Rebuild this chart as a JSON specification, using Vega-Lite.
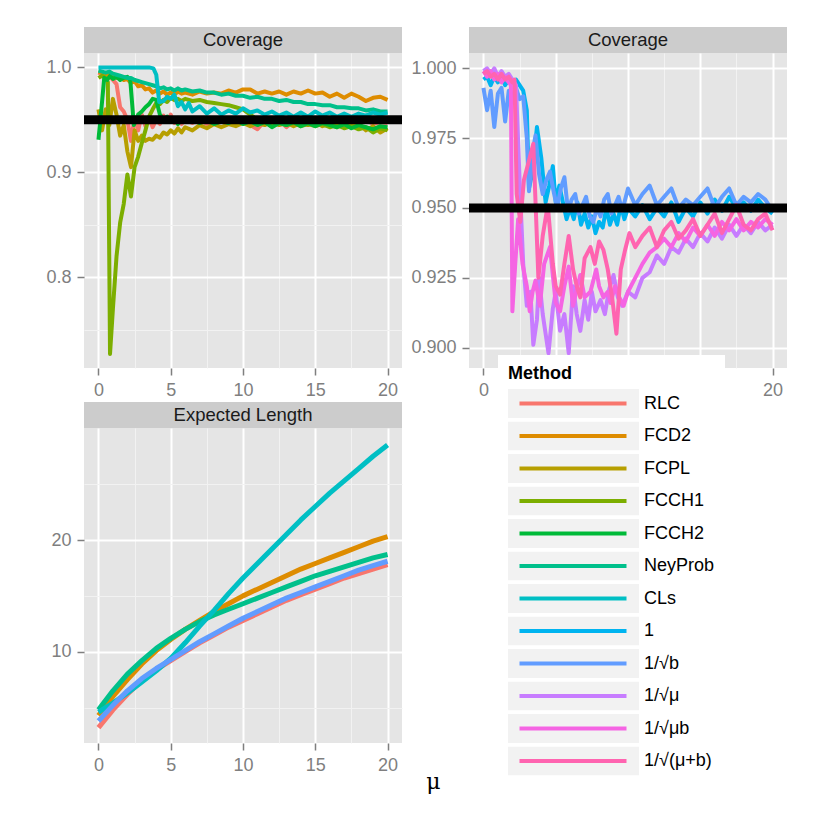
{
  "$schema": "https://vega.github.io/schema/vega-lite/v6.json",
  "autosize": {"type": "pad"},
  "padding": {"left": 45, "top": 27, "right": 5, "bottom": 5},
  "background": "white",
  "datasets": {
    "ref": [{"y": 0.95}],
    "tl": [
      {"m":"RLC","x":0,"y":0.995},{"m":"RLC","x":0.25,"y":0.993},{"m":"RLC","x":0.5,"y":0.99},{"m":"RLC","x":0.75,"y":0.992},{"m":"RLC","x":1,"y":0.988},{"m":"RLC","x":1.25,"y":0.984},{"m":"RLC","x":1.5,"y":0.962},{"m":"RLC","x":1.75,"y":0.958},{"m":"RLC","x":2,"y":0.95},{"m":"RLC","x":2.25,"y":0.93},{"m":"RLC","x":2.5,"y":0.952},{"m":"RLC","x":2.75,"y":0.94},{"m":"RLC","x":3,"y":0.955},{"m":"RLC","x":3.25,"y":0.944},{"m":"RLC","x":3.5,"y":0.952},{"m":"RLC","x":3.75,"y":0.943},{"m":"RLC","x":4,"y":0.95},{"m":"RLC","x":4.25,"y":0.946},{"m":"RLC","x":4.5,"y":0.954},{"m":"RLC","x":4.75,"y":0.948},{"m":"RLC","x":5,"y":0.955},{"m":"RLC","x":5.25,"y":0.947},{"m":"RLC","x":5.5,"y":0.952},{"m":"RLC","x":5.75,"y":0.946},{"m":"RLC","x":6,"y":0.95},{"m":"RLC","x":6.5,"y":0.947},{"m":"RLC","x":7,"y":0.951},{"m":"RLC","x":7.5,"y":0.946},{"m":"RLC","x":8,"y":0.95},{"m":"RLC","x":8.5,"y":0.948},{"m":"RLC","x":9,"y":0.951},{"m":"RLC","x":9.5,"y":0.947},{"m":"RLC","x":10,"y":0.949},{"m":"RLC","x":10.5,"y":0.945},{"m":"RLC","x":11,"y":0.941},{"m":"RLC","x":11.5,"y":0.949},{"m":"RLC","x":12,"y":0.947},{"m":"RLC","x":12.5,"y":0.95},{"m":"RLC","x":13,"y":0.943},{"m":"RLC","x":13.5,"y":0.949},{"m":"RLC","x":14,"y":0.946},{"m":"RLC","x":14.5,"y":0.95},{"m":"RLC","x":15,"y":0.947},{"m":"RLC","x":15.5,"y":0.949},{"m":"RLC","x":16,"y":0.945},{"m":"RLC","x":16.5,"y":0.95},{"m":"RLC","x":17,"y":0.947},{"m":"RLC","x":17.5,"y":0.949},{"m":"RLC","x":18,"y":0.946},{"m":"RLC","x":18.5,"y":0.95},{"m":"RLC","x":19,"y":0.946},{"m":"RLC","x":19.5,"y":0.948},{"m":"RLC","x":20,"y":0.947},
      {"m":"FCD2","x":0,"y":0.996},{"m":"FCD2","x":0.25,"y":0.995},{"m":"FCD2","x":0.5,"y":0.993},{"m":"FCD2","x":0.75,"y":0.994},{"m":"FCD2","x":1,"y":0.992},{"m":"FCD2","x":1.25,"y":0.99},{"m":"FCD2","x":1.5,"y":0.991},{"m":"FCD2","x":1.75,"y":0.988},{"m":"FCD2","x":2,"y":0.989},{"m":"FCD2","x":2.25,"y":0.985},{"m":"FCD2","x":2.5,"y":0.987},{"m":"FCD2","x":2.75,"y":0.982},{"m":"FCD2","x":3,"y":0.983},{"m":"FCD2","x":3.25,"y":0.979},{"m":"FCD2","x":3.5,"y":0.98},{"m":"FCD2","x":3.75,"y":0.976},{"m":"FCD2","x":4,"y":0.978},{"m":"FCD2","x":4.25,"y":0.975},{"m":"FCD2","x":4.5,"y":0.977},{"m":"FCD2","x":4.75,"y":0.974},{"m":"FCD2","x":5,"y":0.976},{"m":"FCD2","x":5.25,"y":0.974},{"m":"FCD2","x":5.5,"y":0.977},{"m":"FCD2","x":5.75,"y":0.975},{"m":"FCD2","x":6,"y":0.976},{"m":"FCD2","x":6.5,"y":0.974},{"m":"FCD2","x":7,"y":0.977},{"m":"FCD2","x":7.5,"y":0.975},{"m":"FCD2","x":8,"y":0.976},{"m":"FCD2","x":8.5,"y":0.975},{"m":"FCD2","x":9,"y":0.978},{"m":"FCD2","x":9.5,"y":0.976},{"m":"FCD2","x":10,"y":0.979},{"m":"FCD2","x":10.5,"y":0.979},{"m":"FCD2","x":11,"y":0.975},{"m":"FCD2","x":11.5,"y":0.977},{"m":"FCD2","x":12,"y":0.975},{"m":"FCD2","x":12.5,"y":0.977},{"m":"FCD2","x":13,"y":0.974},{"m":"FCD2","x":13.5,"y":0.977},{"m":"FCD2","x":14,"y":0.975},{"m":"FCD2","x":14.5,"y":0.978},{"m":"FCD2","x":15,"y":0.975},{"m":"FCD2","x":15.5,"y":0.976},{"m":"FCD2","x":16,"y":0.972},{"m":"FCD2","x":16.5,"y":0.975},{"m":"FCD2","x":17,"y":0.971},{"m":"FCD2","x":17.5,"y":0.975},{"m":"FCD2","x":18,"y":0.972},{"m":"FCD2","x":18.5,"y":0.968},{"m":"FCD2","x":19,"y":0.971},{"m":"FCD2","x":19.5,"y":0.972},{"m":"FCD2","x":20,"y":0.969},
      {"m":"FCPL","x":0,"y":0.96},{"m":"FCPL","x":0.25,"y":0.94},{"m":"FCPL","x":0.5,"y":0.96},{"m":"FCPL","x":0.75,"y":0.945},{"m":"FCPL","x":1,"y":0.97},{"m":"FCPL","x":1.25,"y":0.955},{"m":"FCPL","x":1.5,"y":0.935},{"m":"FCPL","x":1.75,"y":0.945},{"m":"FCPL","x":2,"y":0.92},{"m":"FCPL","x":2.25,"y":0.905},{"m":"FCPL","x":2.5,"y":0.94},{"m":"FCPL","x":2.75,"y":0.93},{"m":"FCPL","x":3,"y":0.935},{"m":"FCPL","x":3.25,"y":0.93},{"m":"FCPL","x":3.5,"y":0.932},{"m":"FCPL","x":3.75,"y":0.931},{"m":"FCPL","x":4,"y":0.935},{"m":"FCPL","x":4.25,"y":0.933},{"m":"FCPL","x":4.5,"y":0.938},{"m":"FCPL","x":4.75,"y":0.936},{"m":"FCPL","x":5,"y":0.94},{"m":"FCPL","x":5.25,"y":0.937},{"m":"FCPL","x":5.5,"y":0.942},{"m":"FCPL","x":5.75,"y":0.938},{"m":"FCPL","x":6,"y":0.943},{"m":"FCPL","x":6.5,"y":0.94},{"m":"FCPL","x":7,"y":0.945},{"m":"FCPL","x":7.5,"y":0.942},{"m":"FCPL","x":8,"y":0.946},{"m":"FCPL","x":8.5,"y":0.943},{"m":"FCPL","x":9,"y":0.946},{"m":"FCPL","x":9.5,"y":0.944},{"m":"FCPL","x":10,"y":0.947},{"m":"FCPL","x":10.5,"y":0.944},{"m":"FCPL","x":11,"y":0.947},{"m":"FCPL","x":11.5,"y":0.945},{"m":"FCPL","x":12,"y":0.948},{"m":"FCPL","x":12.5,"y":0.945},{"m":"FCPL","x":13,"y":0.947},{"m":"FCPL","x":13.5,"y":0.944},{"m":"FCPL","x":14,"y":0.947},{"m":"FCPL","x":14.5,"y":0.945},{"m":"FCPL","x":15,"y":0.948},{"m":"FCPL","x":15.5,"y":0.944},{"m":"FCPL","x":16,"y":0.946},{"m":"FCPL","x":16.5,"y":0.943},{"m":"FCPL","x":17,"y":0.947},{"m":"FCPL","x":17.5,"y":0.944},{"m":"FCPL","x":18,"y":0.946},{"m":"FCPL","x":18.5,"y":0.94},{"m":"FCPL","x":19,"y":0.944},{"m":"FCPL","x":19.5,"y":0.938},{"m":"FCPL","x":20,"y":0.942},
      {"m":"FCCH1","x":0,"y":0.99},{"m":"FCCH1","x":0.25,"y":0.992},{"m":"FCCH1","x":0.5,"y":0.99},{"m":"FCCH1","x":0.65,"y":0.986},{"m":"FCCH1","x":0.8,"y":0.727},{"m":"FCCH1","x":1,"y":0.77},{"m":"FCCH1","x":1.25,"y":0.82},{"m":"FCCH1","x":1.5,"y":0.852},{"m":"FCCH1","x":1.75,"y":0.87},{"m":"FCCH1","x":2,"y":0.898},{"m":"FCCH1","x":2.25,"y":0.877},{"m":"FCCH1","x":2.5,"y":0.905},{"m":"FCCH1","x":2.75,"y":0.915},{"m":"FCCH1","x":3,"y":0.928},{"m":"FCCH1","x":3.25,"y":0.94},{"m":"FCCH1","x":3.5,"y":0.953},{"m":"FCCH1","x":3.75,"y":0.96},{"m":"FCCH1","x":4,"y":0.966},{"m":"FCCH1","x":4.25,"y":0.965},{"m":"FCCH1","x":4.5,"y":0.969},{"m":"FCCH1","x":4.75,"y":0.967},{"m":"FCCH1","x":5,"y":0.971},{"m":"FCCH1","x":5.25,"y":0.969},{"m":"FCCH1","x":5.5,"y":0.97},{"m":"FCCH1","x":5.75,"y":0.968},{"m":"FCCH1","x":6,"y":0.97},{"m":"FCCH1","x":6.5,"y":0.968},{"m":"FCCH1","x":7,"y":0.969},{"m":"FCCH1","x":7.5,"y":0.967},{"m":"FCCH1","x":8,"y":0.966},{"m":"FCCH1","x":8.5,"y":0.965},{"m":"FCCH1","x":9,"y":0.964},{"m":"FCCH1","x":9.5,"y":0.962},{"m":"FCCH1","x":10,"y":0.96},{"m":"FCCH1","x":10.5,"y":0.955},{"m":"FCCH1","x":11,"y":0.95},{"m":"FCCH1","x":11.5,"y":0.948},{"m":"FCCH1","x":12,"y":0.946},{"m":"FCCH1","x":12.5,"y":0.948},{"m":"FCCH1","x":13,"y":0.945},{"m":"FCCH1","x":13.5,"y":0.947},{"m":"FCCH1","x":14,"y":0.944},{"m":"FCCH1","x":14.5,"y":0.946},{"m":"FCCH1","x":15,"y":0.944},{"m":"FCCH1","x":15.5,"y":0.946},{"m":"FCCH1","x":16,"y":0.943},{"m":"FCCH1","x":16.5,"y":0.945},{"m":"FCCH1","x":17,"y":0.942},{"m":"FCCH1","x":17.5,"y":0.944},{"m":"FCCH1","x":18,"y":0.941},{"m":"FCCH1","x":18.5,"y":0.943},{"m":"FCCH1","x":19,"y":0.938},{"m":"FCCH1","x":19.5,"y":0.942},{"m":"FCCH1","x":20,"y":0.94},
      {"m":"FCCH2","x":0,"y":0.931},{"m":"FCCH2","x":0.2,"y":0.96},{"m":"FCCH2","x":0.4,"y":0.99},{"m":"FCCH2","x":0.6,"y":0.988},{"m":"FCCH2","x":0.8,"y":0.992},{"m":"FCCH2","x":1,"y":0.989},{"m":"FCCH2","x":1.25,"y":0.991},{"m":"FCCH2","x":1.5,"y":0.988},{"m":"FCCH2","x":1.75,"y":0.99},{"m":"FCCH2","x":2,"y":0.991},{"m":"FCCH2","x":2.2,"y":0.988},{"m":"FCCH2","x":2.45,"y":0.945},{"m":"FCCH2","x":2.75,"y":0.955},{"m":"FCCH2","x":3,"y":0.958},{"m":"FCCH2","x":3.25,"y":0.962},{"m":"FCCH2","x":3.5,"y":0.965},{"m":"FCCH2","x":3.75,"y":0.97},{"m":"FCCH2","x":4,"y":0.969},{"m":"FCCH2","x":4.25,"y":0.955},{"m":"FCCH2","x":4.5,"y":0.95},{"m":"FCCH2","x":4.75,"y":0.953},{"m":"FCCH2","x":5,"y":0.948},{"m":"FCCH2","x":5.25,"y":0.951},{"m":"FCCH2","x":5.5,"y":0.946},{"m":"FCCH2","x":5.75,"y":0.95},{"m":"FCCH2","x":6,"y":0.948},{"m":"FCCH2","x":6.5,"y":0.951},{"m":"FCCH2","x":7,"y":0.947},{"m":"FCCH2","x":7.5,"y":0.95},{"m":"FCCH2","x":8,"y":0.946},{"m":"FCCH2","x":8.5,"y":0.949},{"m":"FCCH2","x":9,"y":0.947},{"m":"FCCH2","x":9.5,"y":0.95},{"m":"FCCH2","x":10,"y":0.946},{"m":"FCCH2","x":10.5,"y":0.949},{"m":"FCCH2","x":11,"y":0.945},{"m":"FCCH2","x":11.5,"y":0.948},{"m":"FCCH2","x":12,"y":0.943},{"m":"FCCH2","x":12.5,"y":0.947},{"m":"FCCH2","x":13,"y":0.945},{"m":"FCCH2","x":13.5,"y":0.948},{"m":"FCCH2","x":14,"y":0.944},{"m":"FCCH2","x":14.5,"y":0.947},{"m":"FCCH2","x":15,"y":0.944},{"m":"FCCH2","x":15.5,"y":0.947},{"m":"FCCH2","x":16,"y":0.945},{"m":"FCCH2","x":16.5,"y":0.943},{"m":"FCCH2","x":17,"y":0.946},{"m":"FCCH2","x":17.5,"y":0.942},{"m":"FCCH2","x":18,"y":0.945},{"m":"FCCH2","x":18.5,"y":0.943},{"m":"FCCH2","x":19,"y":0.941},{"m":"FCCH2","x":19.5,"y":0.944},{"m":"FCCH2","x":20,"y":0.943},
      {"m":"NeyProb","x":0,"y":0.997},{"m":"NeyProb","x":0.25,"y":0.996},{"m":"NeyProb","x":0.5,"y":0.995},{"m":"NeyProb","x":0.75,"y":0.996},{"m":"NeyProb","x":1,"y":0.994},{"m":"NeyProb","x":1.25,"y":0.993},{"m":"NeyProb","x":1.5,"y":0.992},{"m":"NeyProb","x":1.75,"y":0.991},{"m":"NeyProb","x":2,"y":0.99},{"m":"NeyProb","x":2.25,"y":0.99},{"m":"NeyProb","x":2.5,"y":0.988},{"m":"NeyProb","x":2.75,"y":0.987},{"m":"NeyProb","x":3,"y":0.986},{"m":"NeyProb","x":3.25,"y":0.985},{"m":"NeyProb","x":3.5,"y":0.984},{"m":"NeyProb","x":3.75,"y":0.983},{"m":"NeyProb","x":4,"y":0.982},{"m":"NeyProb","x":4.25,"y":0.98},{"m":"NeyProb","x":4.5,"y":0.981},{"m":"NeyProb","x":4.75,"y":0.979},{"m":"NeyProb","x":5,"y":0.98},{"m":"NeyProb","x":5.25,"y":0.978},{"m":"NeyProb","x":5.5,"y":0.98},{"m":"NeyProb","x":5.75,"y":0.978},{"m":"NeyProb","x":6,"y":0.979},{"m":"NeyProb","x":6.5,"y":0.977},{"m":"NeyProb","x":7,"y":0.978},{"m":"NeyProb","x":7.5,"y":0.976},{"m":"NeyProb","x":8,"y":0.976},{"m":"NeyProb","x":8.5,"y":0.974},{"m":"NeyProb","x":9,"y":0.975},{"m":"NeyProb","x":9.5,"y":0.973},{"m":"NeyProb","x":10,"y":0.973},{"m":"NeyProb","x":10.5,"y":0.971},{"m":"NeyProb","x":11,"y":0.972},{"m":"NeyProb","x":11.5,"y":0.97},{"m":"NeyProb","x":12,"y":0.97},{"m":"NeyProb","x":12.5,"y":0.968},{"m":"NeyProb","x":13,"y":0.969},{"m":"NeyProb","x":13.5,"y":0.967},{"m":"NeyProb","x":14,"y":0.967},{"m":"NeyProb","x":14.5,"y":0.965},{"m":"NeyProb","x":15,"y":0.965},{"m":"NeyProb","x":15.5,"y":0.964},{"m":"NeyProb","x":16,"y":0.964},{"m":"NeyProb","x":16.5,"y":0.962},{"m":"NeyProb","x":17,"y":0.962},{"m":"NeyProb","x":17.5,"y":0.961},{"m":"NeyProb","x":18,"y":0.961},{"m":"NeyProb","x":18.5,"y":0.959},{"m":"NeyProb","x":19,"y":0.96},{"m":"NeyProb","x":19.5,"y":0.958},{"m":"NeyProb","x":20,"y":0.958},
      {"m":"CLs","x":0,"y":1},{"m":"CLs","x":0.5,"y":1},{"m":"CLs","x":1,"y":1},{"m":"CLs","x":1.5,"y":1},{"m":"CLs","x":2,"y":1},{"m":"CLs","x":2.5,"y":1},{"m":"CLs","x":3,"y":1},{"m":"CLs","x":3.5,"y":1},{"m":"CLs","x":3.8,"y":0.999},{"m":"CLs","x":4,"y":0.993},{"m":"CLs","x":4.2,"y":0.967},{"m":"CLs","x":4.5,"y":0.968},{"m":"CLs","x":4.75,"y":0.972},{"m":"CLs","x":5,"y":0.97},{"m":"CLs","x":5.25,"y":0.974},{"m":"CLs","x":5.5,"y":0.963},{"m":"CLs","x":5.75,"y":0.967},{"m":"CLs","x":6,"y":0.96},{"m":"CLs","x":6.25,"y":0.966},{"m":"CLs","x":6.5,"y":0.958},{"m":"CLs","x":7,"y":0.963},{"m":"CLs","x":7.5,"y":0.956},{"m":"CLs","x":8,"y":0.961},{"m":"CLs","x":8.5,"y":0.955},{"m":"CLs","x":9,"y":0.959},{"m":"CLs","x":9.5,"y":0.956},{"m":"CLs","x":10,"y":0.961},{"m":"CLs","x":10.5,"y":0.957},{"m":"CLs","x":11,"y":0.959},{"m":"CLs","x":11.5,"y":0.955},{"m":"CLs","x":12,"y":0.958},{"m":"CLs","x":12.5,"y":0.954},{"m":"CLs","x":13,"y":0.957},{"m":"CLs","x":13.5,"y":0.953},{"m":"CLs","x":14,"y":0.957},{"m":"CLs","x":14.5,"y":0.953},{"m":"CLs","x":15,"y":0.958},{"m":"CLs","x":15.5,"y":0.954},{"m":"CLs","x":16,"y":0.957},{"m":"CLs","x":16.5,"y":0.953},{"m":"CLs","x":17,"y":0.956},{"m":"CLs","x":17.5,"y":0.953},{"m":"CLs","x":18,"y":0.956},{"m":"CLs","x":18.5,"y":0.954},{"m":"CLs","x":19,"y":0.957},{"m":"CLs","x":19.5,"y":0.955},{"m":"CLs","x":20,"y":0.957}
    ],
    "tr": [
      {"m":"1","x":0,"y":0.996},{"m":"1","x":0.25,"y":0.997},{"m":"1","x":0.5,"y":0.994},{"m":"1","x":0.75,"y":0.997},{"m":"1","x":1,"y":0.995},{"m":"1","x":1.25,"y":0.997},{"m":"1","x":1.5,"y":0.994},{"m":"1","x":1.75,"y":0.996},{"m":"1","x":2,"y":0.995},{"m":"1","x":2.25,"y":0.996},{"m":"1","x":2.5,"y":0.994},{"m":"1","x":2.75,"y":0.992},{"m":"1","x":3,"y":0.985},{"m":"1","x":3.15,"y":0.957},{"m":"1","x":3.4,"y":0.963},{"m":"1","x":3.7,"y":0.979},{"m":"1","x":4,"y":0.968},{"m":"1","x":4.3,"y":0.952},{"m":"1","x":4.55,"y":0.958},{"m":"1","x":4.8,"y":0.965},{"m":"1","x":5,"y":0.952},{"m":"1","x":5.25,"y":0.958},{"m":"1","x":5.5,"y":0.952},{"m":"1","x":5.75,"y":0.946},{"m":"1","x":6,"y":0.95},{"m":"1","x":6.25,"y":0.946},{"m":"1","x":6.5,"y":0.952},{"m":"1","x":6.75,"y":0.944},{"m":"1","x":7,"y":0.948},{"m":"1","x":7.25,"y":0.943},{"m":"1","x":7.5,"y":0.947},{"m":"1","x":7.75,"y":0.941},{"m":"1","x":8,"y":0.945},{"m":"1","x":8.25,"y":0.943},{"m":"1","x":8.5,"y":0.95},{"m":"1","x":8.75,"y":0.944},{"m":"1","x":9,"y":0.948},{"m":"1","x":9.25,"y":0.944},{"m":"1","x":9.5,"y":0.951},{"m":"1","x":9.75,"y":0.946},{"m":"1","x":10,"y":0.95},{"m":"1","x":10.5,"y":0.947},{"m":"1","x":11,"y":0.951},{"m":"1","x":11.5,"y":0.946},{"m":"1","x":12,"y":0.95},{"m":"1","x":12.5,"y":0.947},{"m":"1","x":13,"y":0.952},{"m":"1","x":13.5,"y":0.945},{"m":"1","x":14,"y":0.95},{"m":"1","x":14.5,"y":0.947},{"m":"1","x":15,"y":0.952},{"m":"1","x":15.5,"y":0.948},{"m":"1","x":16,"y":0.953},{"m":"1","x":16.5,"y":0.949},{"m":"1","x":17,"y":0.954},{"m":"1","x":17.5,"y":0.95},{"m":"1","x":18,"y":0.952},{"m":"1","x":18.5,"y":0.949},{"m":"1","x":19,"y":0.953},{"m":"1","x":19.5,"y":0.95},{"m":"1","x":20,"y":0.948},
      {"m":"1/√b","x":0,"y":0.993},{"m":"1/√b","x":0.25,"y":0.985},{"m":"1/√b","x":0.5,"y":0.992},{"m":"1/√b","x":0.75,"y":0.979},{"m":"1/√b","x":1,"y":0.991},{"m":"1/√b","x":1.25,"y":0.993},{"m":"1/√b","x":1.5,"y":0.981},{"m":"1/√b","x":1.75,"y":0.992},{"m":"1/√b","x":2,"y":0.99},{"m":"1/√b","x":2.25,"y":0.993},{"m":"1/√b","x":2.5,"y":0.989},{"m":"1/√b","x":2.75,"y":0.99},{"m":"1/√b","x":3,"y":0.975},{"m":"1/√b","x":3.15,"y":0.956},{"m":"1/√b","x":3.4,"y":0.97},{"m":"1/√b","x":3.6,"y":0.976},{"m":"1/√b","x":3.85,"y":0.962},{"m":"1/√b","x":4.1,"y":0.955},{"m":"1/√b","x":4.35,"y":0.96},{"m":"1/√b","x":4.6,"y":0.963},{"m":"1/√b","x":4.85,"y":0.956},{"m":"1/√b","x":5.1,"y":0.95},{"m":"1/√b","x":5.35,"y":0.957},{"m":"1/√b","x":5.6,"y":0.961},{"m":"1/√b","x":5.85,"y":0.949},{"m":"1/√b","x":6.1,"y":0.953},{"m":"1/√b","x":6.35,"y":0.955},{"m":"1/√b","x":6.6,"y":0.948},{"m":"1/√b","x":6.85,"y":0.951},{"m":"1/√b","x":7.1,"y":0.954},{"m":"1/√b","x":7.35,"y":0.947},{"m":"1/√b","x":7.6,"y":0.945},{"m":"1/√b","x":7.85,"y":0.95},{"m":"1/√b","x":8.1,"y":0.947},{"m":"1/√b","x":8.35,"y":0.953},{"m":"1/√b","x":8.6,"y":0.955},{"m":"1/√b","x":8.85,"y":0.948},{"m":"1/√b","x":9.1,"y":0.951},{"m":"1/√b","x":9.35,"y":0.954},{"m":"1/√b","x":9.6,"y":0.949},{"m":"1/√b","x":10,"y":0.957},{"m":"1/√b","x":10.5,"y":0.951},{"m":"1/√b","x":11,"y":0.955},{"m":"1/√b","x":11.5,"y":0.958},{"m":"1/√b","x":12,"y":0.951},{"m":"1/√b","x":12.5,"y":0.954},{"m":"1/√b","x":13,"y":0.957},{"m":"1/√b","x":13.5,"y":0.95},{"m":"1/√b","x":14,"y":0.953},{"m":"1/√b","x":14.5,"y":0.951},{"m":"1/√b","x":15,"y":0.954},{"m":"1/√b","x":15.5,"y":0.957},{"m":"1/√b","x":16,"y":0.95},{"m":"1/√b","x":16.5,"y":0.954},{"m":"1/√b","x":17,"y":0.957},{"m":"1/√b","x":17.5,"y":0.951},{"m":"1/√b","x":18,"y":0.954},{"m":"1/√b","x":18.5,"y":0.952},{"m":"1/√b","x":19,"y":0.955},{"m":"1/√b","x":19.5,"y":0.953},{"m":"1/√b","x":20,"y":0.949},
      {"m":"1/√μ","x":0,"y":0.999},{"m":"1/√μ","x":0.25,"y":1},{"m":"1/√μ","x":0.5,"y":0.998},{"m":"1/√μ","x":0.75,"y":1},{"m":"1/√μ","x":1,"y":0.997},{"m":"1/√μ","x":1.25,"y":0.999},{"m":"1/√μ","x":1.5,"y":0.997},{"m":"1/√μ","x":1.75,"y":0.998},{"m":"1/√μ","x":2,"y":0.996},{"m":"1/√μ","x":2.25,"y":0.994},{"m":"1/√μ","x":2.5,"y":0.96},{"m":"1/√μ","x":2.75,"y":0.93},{"m":"1/√μ","x":3,"y":0.915},{"m":"1/√μ","x":3.25,"y":0.92},{"m":"1/√μ","x":3.45,"y":0.901},{"m":"1/√μ","x":3.7,"y":0.91},{"m":"1/√μ","x":3.85,"y":0.925},{"m":"1/√μ","x":4.1,"y":0.912},{"m":"1/√μ","x":4.5,"y":0.898},{"m":"1/√μ","x":4.8,"y":0.914},{"m":"1/√μ","x":5,"y":0.92},{"m":"1/√μ","x":5.3,"y":0.906},{"m":"1/√μ","x":5.6,"y":0.912},{"m":"1/√μ","x":5.9,"y":0.898},{"m":"1/√μ","x":6.2,"y":0.922},{"m":"1/√μ","x":6.45,"y":0.912},{"m":"1/√μ","x":6.7,"y":0.906},{"m":"1/√μ","x":7,"y":0.917},{"m":"1/√μ","x":7.25,"y":0.91},{"m":"1/√μ","x":7.5,"y":0.92},{"m":"1/√μ","x":7.75,"y":0.913},{"m":"1/√μ","x":8.1,"y":0.917},{"m":"1/√μ","x":8.4,"y":0.912},{"m":"1/√μ","x":8.7,"y":0.921},{"m":"1/√μ","x":9,"y":0.926},{"m":"1/√μ","x":9.3,"y":0.918},{"m":"1/√μ","x":9.6,"y":0.915},{"m":"1/√μ","x":10,"y":0.92},{"m":"1/√μ","x":10.5,"y":0.918},{"m":"1/√μ","x":11,"y":0.925},{"m":"1/√μ","x":11.5,"y":0.927},{"m":"1/√μ","x":12,"y":0.933},{"m":"1/√μ","x":12.5,"y":0.93},{"m":"1/√μ","x":13,"y":0.936},{"m":"1/√μ","x":13.5,"y":0.934},{"m":"1/√μ","x":14,"y":0.939},{"m":"1/√μ","x":14.5,"y":0.936},{"m":"1/√μ","x":15,"y":0.941},{"m":"1/√μ","x":15.5,"y":0.938},{"m":"1/√μ","x":16,"y":0.943},{"m":"1/√μ","x":16.5,"y":0.939},{"m":"1/√μ","x":17,"y":0.944},{"m":"1/√μ","x":17.5,"y":0.94},{"m":"1/√μ","x":18,"y":0.944},{"m":"1/√μ","x":18.5,"y":0.941},{"m":"1/√μ","x":19,"y":0.945},{"m":"1/√μ","x":19.5,"y":0.942},{"m":"1/√μ","x":20,"y":0.944},
      {"m":"1/√μb","x":0,"y":0.999},{"m":"1/√μb","x":0.25,"y":0.997},{"m":"1/√μb","x":0.5,"y":0.999},{"m":"1/√μb","x":0.75,"y":0.996},{"m":"1/√μb","x":1,"y":0.998},{"m":"1/√μb","x":1.25,"y":0.995},{"m":"1/√μb","x":1.5,"y":0.997},{"m":"1/√μb","x":1.75,"y":0.995},{"m":"1/√μb","x":1.9,"y":0.994},{"m":"1/√μb","x":2,"y":0.913},{"m":"1/√μb","x":2.2,"y":0.93},{"m":"1/√μb","x":2.4,"y":0.946},{"m":"1/√μb","x":2.7,"y":0.93},{"m":"1/√μb","x":3,"y":0.922},{"m":"1/√μb","x":3.2,"y":0.913},{"m":"1/√μb","x":3.4,"y":0.92},{"m":"1/√μb","x":3.6,"y":0.924},{"m":"1/√μb","x":3.9,"y":0.915},{"m":"1/√μb","x":4.2,"y":0.93},{"m":"1/√μb","x":4.6,"y":0.936},{"m":"1/√μb","x":5,"y":0.916},{"m":"1/√μb","x":5.3,"y":0.913},{"m":"1/√μb","x":5.6,"y":0.922},{"m":"1/√μb","x":5.9,"y":0.929},{"m":"1/√μb","x":6.2,"y":0.915},{"m":"1/√μb","x":6.5,"y":0.922},{"m":"1/√μb","x":6.7,"y":0.926},{"m":"1/√μb","x":7,"y":0.918},{"m":"1/√μb","x":7.4,"y":0.92},{"m":"1/√μb","x":7.8,"y":0.928},{"m":"1/√μb","x":8,"y":0.922},{"m":"1/√μb","x":8.3,"y":0.918},{"m":"1/√μb","x":8.6,"y":0.92},{"m":"1/√μb","x":8.8,"y":0.916},{"m":"1/√μb","x":9.1,"y":0.922},{"m":"1/√μb","x":9.4,"y":0.918},{"m":"1/√μb","x":9.7,"y":0.915},{"m":"1/√μb","x":10,"y":0.92},{"m":"1/√μb","x":10.5,"y":0.925},{"m":"1/√μb","x":11,"y":0.93},{"m":"1/√μb","x":11.5,"y":0.934},{"m":"1/√μb","x":12,"y":0.936},{"m":"1/√μb","x":12.5,"y":0.939},{"m":"1/√μb","x":13,"y":0.936},{"m":"1/√μb","x":13.5,"y":0.941},{"m":"1/√μb","x":14,"y":0.938},{"m":"1/√μb","x":14.5,"y":0.943},{"m":"1/√μb","x":15,"y":0.94},{"m":"1/√μb","x":15.5,"y":0.944},{"m":"1/√μb","x":16,"y":0.94},{"m":"1/√μb","x":16.5,"y":0.945},{"m":"1/√μb","x":17,"y":0.942},{"m":"1/√μb","x":17.5,"y":0.946},{"m":"1/√μb","x":18,"y":0.942},{"m":"1/√μb","x":18.5,"y":0.945},{"m":"1/√μb","x":19,"y":0.943},{"m":"1/√μb","x":19.5,"y":0.946},{"m":"1/√μb","x":20,"y":0.944},
      {"m":"1/√(μ+b)","x":0,"y":0.998},{"m":"1/√(μ+b)","x":0.25,"y":0.999},{"m":"1/√(μ+b)","x":0.5,"y":0.997},{"m":"1/√(μ+b)","x":0.75,"y":0.998},{"m":"1/√(μ+b)","x":1,"y":0.996},{"m":"1/√(μ+b)","x":1.25,"y":0.998},{"m":"1/√(μ+b)","x":1.5,"y":0.996},{"m":"1/√(μ+b)","x":1.75,"y":0.997},{"m":"1/√(μ+b)","x":2,"y":0.995},{"m":"1/√(μ+b)","x":2.15,"y":0.996},{"m":"1/√(μ+b)","x":2.3,"y":0.955},{"m":"1/√(μ+b)","x":2.55,"y":0.945},{"m":"1/√(μ+b)","x":2.8,"y":0.96},{"m":"1/√(μ+b)","x":3.1,"y":0.966},{"m":"1/√(μ+b)","x":3.45,"y":0.973},{"m":"1/√(μ+b)","x":3.8,"y":0.925},{"m":"1/√(μ+b)","x":4.1,"y":0.94},{"m":"1/√(μ+b)","x":4.45,"y":0.951},{"m":"1/√(μ+b)","x":4.8,"y":0.93},{"m":"1/√(μ+b)","x":5,"y":0.922},{"m":"1/√(μ+b)","x":5.3,"y":0.919},{"m":"1/√(μ+b)","x":5.6,"y":0.93},{"m":"1/√(μ+b)","x":5.9,"y":0.94},{"m":"1/√(μ+b)","x":6.2,"y":0.928},{"m":"1/√(μ+b)","x":6.45,"y":0.922},{"m":"1/√(μ+b)","x":6.7,"y":0.918},{"m":"1/√(μ+b)","x":7,"y":0.932},{"m":"1/√(μ+b)","x":7.4,"y":0.936},{"m":"1/√(μ+b)","x":7.7,"y":0.93},{"m":"1/√(μ+b)","x":8,"y":0.938},{"m":"1/√(μ+b)","x":8.3,"y":0.935},{"m":"1/√(μ+b)","x":8.6,"y":0.928},{"m":"1/√(μ+b)","x":8.9,"y":0.918},{"m":"1/√(μ+b)","x":9.2,"y":0.905},{"m":"1/√(μ+b)","x":9.5,"y":0.928},{"m":"1/√(μ+b)","x":9.8,"y":0.935},{"m":"1/√(μ+b)","x":10.1,"y":0.941},{"m":"1/√(μ+b)","x":10.5,"y":0.936},{"m":"1/√(μ+b)","x":11,"y":0.94},{"m":"1/√(μ+b)","x":11.5,"y":0.943},{"m":"1/√(μ+b)","x":12,"y":0.936},{"m":"1/√(μ+b)","x":12.5,"y":0.942},{"m":"1/√(μ+b)","x":13,"y":0.945},{"m":"1/√(μ+b)","x":13.5,"y":0.939},{"m":"1/√(μ+b)","x":14,"y":0.942},{"m":"1/√(μ+b)","x":14.5,"y":0.946},{"m":"1/√(μ+b)","x":15,"y":0.94},{"m":"1/√(μ+b)","x":15.5,"y":0.944},{"m":"1/√(μ+b)","x":16,"y":0.948},{"m":"1/√(μ+b)","x":16.5,"y":0.941},{"m":"1/√(μ+b)","x":17,"y":0.946},{"m":"1/√(μ+b)","x":17.5,"y":0.951},{"m":"1/√(μ+b)","x":18,"y":0.944},{"m":"1/√(μ+b)","x":18.5,"y":0.942},{"m":"1/√(μ+b)","x":19,"y":0.946},{"m":"1/√(μ+b)","x":19.5,"y":0.948},{"m":"1/√(μ+b)","x":20,"y":0.942}
    ],
    "bl": [
      {"m":"RLC","x":0,"y":3.2},{"m":"RLC","x":1,"y":4.8},{"m":"RLC","x":2,"y":6.2},{"m":"RLC","x":3,"y":7.4},{"m":"RLC","x":4,"y":8.4},{"m":"RLC","x":5,"y":9.2},{"m":"RLC","x":6,"y":10},{"m":"RLC","x":7,"y":10.8},{"m":"RLC","x":8,"y":11.5},{"m":"RLC","x":9,"y":12.2},{"m":"RLC","x":10,"y":12.8},{"m":"RLC","x":11,"y":13.4},{"m":"RLC","x":12,"y":14},{"m":"RLC","x":13,"y":14.6},{"m":"RLC","x":14,"y":15.1},{"m":"RLC","x":15,"y":15.6},{"m":"RLC","x":16,"y":16.1},{"m":"RLC","x":17,"y":16.6},{"m":"RLC","x":18,"y":17},{"m":"RLC","x":19,"y":17.4},{"m":"RLC","x":20,"y":17.8},
      {"m":"FCD2","x":0,"y":4.3},{"m":"FCD2","x":1,"y":6},{"m":"FCD2","x":2,"y":7.5},{"m":"FCD2","x":3,"y":8.9},{"m":"FCD2","x":4,"y":10.1},{"m":"FCD2","x":5,"y":11.1},{"m":"FCD2","x":6,"y":12},{"m":"FCD2","x":7,"y":12.8},{"m":"FCD2","x":8,"y":13.6},{"m":"FCD2","x":9,"y":14.3},{"m":"FCD2","x":10,"y":15},{"m":"FCD2","x":11,"y":15.6},{"m":"FCD2","x":12,"y":16.2},{"m":"FCD2","x":13,"y":16.8},{"m":"FCD2","x":14,"y":17.4},{"m":"FCD2","x":15,"y":17.9},{"m":"FCD2","x":16,"y":18.4},{"m":"FCD2","x":17,"y":18.9},{"m":"FCD2","x":18,"y":19.4},{"m":"FCD2","x":19,"y":19.9},{"m":"FCD2","x":20,"y":20.3},
      {"m":"NeyProb","x":0,"y":4.8},{"m":"NeyProb","x":1,"y":6.5},{"m":"NeyProb","x":2,"y":8},{"m":"NeyProb","x":3,"y":9.2},{"m":"NeyProb","x":4,"y":10.3},{"m":"NeyProb","x":5,"y":11.2},{"m":"NeyProb","x":6,"y":12},{"m":"NeyProb","x":7,"y":12.7},{"m":"NeyProb","x":8,"y":13.3},{"m":"NeyProb","x":9,"y":13.8},{"m":"NeyProb","x":10,"y":14.3},{"m":"NeyProb","x":11,"y":14.8},{"m":"NeyProb","x":12,"y":15.3},{"m":"NeyProb","x":13,"y":15.8},{"m":"NeyProb","x":14,"y":16.3},{"m":"NeyProb","x":15,"y":16.8},{"m":"NeyProb","x":16,"y":17.2},{"m":"NeyProb","x":17,"y":17.6},{"m":"NeyProb","x":18,"y":18},{"m":"NeyProb","x":19,"y":18.4},{"m":"NeyProb","x":20,"y":18.7},
      {"m":"CLs","x":0,"y":4.6},{"m":"CLs","x":1,"y":5.4},{"m":"CLs","x":2,"y":6.3},{"m":"CLs","x":3,"y":7.3},{"m":"CLs","x":4,"y":8.3},{"m":"CLs","x":5,"y":9.4},{"m":"CLs","x":6,"y":10.8},{"m":"CLs","x":7,"y":12.3},{"m":"CLs","x":8,"y":13.7},{"m":"CLs","x":9,"y":15.2},{"m":"CLs","x":10,"y":16.6},{"m":"CLs","x":11,"y":17.9},{"m":"CLs","x":12,"y":19.2},{"m":"CLs","x":13,"y":20.5},{"m":"CLs","x":14,"y":21.8},{"m":"CLs","x":15,"y":23},{"m":"CLs","x":16,"y":24.2},{"m":"CLs","x":17,"y":25.3},{"m":"CLs","x":18,"y":26.4},{"m":"CLs","x":19,"y":27.5},{"m":"CLs","x":20,"y":28.5},
      {"m":"1/√b","x":0,"y":3.8},{"m":"1/√b","x":1,"y":5.2},{"m":"1/√b","x":2,"y":6.5},{"m":"1/√b","x":3,"y":7.6},{"m":"1/√b","x":4,"y":8.5},{"m":"1/√b","x":5,"y":9.3},{"m":"1/√b","x":6,"y":10.1},{"m":"1/√b","x":7,"y":10.9},{"m":"1/√b","x":8,"y":11.6},{"m":"1/√b","x":9,"y":12.3},{"m":"1/√b","x":10,"y":13},{"m":"1/√b","x":11,"y":13.6},{"m":"1/√b","x":12,"y":14.2},{"m":"1/√b","x":13,"y":14.8},{"m":"1/√b","x":14,"y":15.3},{"m":"1/√b","x":15,"y":15.8},{"m":"1/√b","x":16,"y":16.3},{"m":"1/√b","x":17,"y":16.8},{"m":"1/√b","x":18,"y":17.3},{"m":"1/√b","x":19,"y":17.7},{"m":"1/√b","x":20,"y":18.1}
    ]
  },
  "concat": [
    {
      "width": 318, "height": 26,
      "view": {"fill": "#CCCCCC", "stroke": null},
      "data": {"values": [{"t": "Coverage"}]},
      "mark": {"type": "text", "fontSize": 18.5, "color": "#1A1A1A", "baseline": "middle"},
      "encoding": {"text": {"field": "t"}}
    },
    {
      "width": 318, "height": 26,
      "view": {"fill": "#CCCCCC", "stroke": null},
      "data": {"values": [{"t": "Coverage"}]},
      "mark": {"type": "text", "fontSize": 18.5, "color": "#1A1A1A", "baseline": "middle"},
      "encoding": {"text": {"field": "t"}}
    },
    {
      "width": 318, "height": 315,
      "layer": [
        {
          "data": {"name": "tl"},
          "mark": {"type": "line", "clip": true},
          "encoding": {
            "x": {"field": "x", "type": "quantitative", "scale": {"domain": [-1, 21], "nice": false, "zero": false},
              "axis": {"title": null, "values": [0, 2.5, 5, 7.5, 10, 12.5, 15, 17.5, 20],
                "labelExpr": "datum.value % 5 === 0 ? datum.label : ''",
                "gridColor": {"condition": {"test": "datum.value % 5 === 0", "value": "white"}, "value": "#F2F2F2"},
                "gridWidth": {"condition": {"test": "datum.value % 5 === 0", "value": 2}, "value": 1},
                "tickOpacity": {"condition": {"test": "datum.value % 5 === 0", "value": 1}, "value": 0}}},
            "y": {"field": "y", "type": "quantitative", "scale": {"domain": [0.7136, 1.0137], "nice": false, "zero": false},
              "axis": {"title": null, "values": [0.75, 0.8, 0.85, 0.9, 0.95, 1.0], "format": ".1f",
                "labelExpr": "round(datum.value * 100) % 10 === 0 ? datum.label : ''",
                "gridColor": {"condition": {"test": "round(datum.value * 100) % 10 === 0", "value": "white"}, "value": "#F2F2F2"},
                "gridWidth": {"condition": {"test": "round(datum.value * 100) % 10 === 0", "value": 2}, "value": 1},
                "tickOpacity": {"condition": {"test": "round(datum.value * 100) % 10 === 0", "value": 1}, "value": 0}}},
            "color": {"field": "m", "type": "nominal",
              "scale": {"domain": ["RLC", "FCD2", "FCPL", "FCCH1", "FCCH2", "NeyProb", "CLs", "1", "1/√b", "1/√μ", "1/√μb", "1/√(μ+b)"],
                "range": ["#F8766D", "#DE8C00", "#B79F00", "#7CAE00", "#00BA38", "#00C08B", "#00BFC4", "#00B4F0", "#619CFF", "#C77CFF", "#F564E3", "#FF64B0"]},
              "legend": {"title": null, "zindex": 2, "legendY": 352, "symbolType": "stroke", "symbolSize": 11449, "symbolStrokeWidth": 4.5, "symbolOffset": 9.5, "labelOffset": 15.5}}
          }
        },
        {
          "data": {"name": "ref"},
          "mark": {"type": "rule", "color": "black", "strokeWidth": 9},
          "encoding": {"y": {"field": "y", "type": "quantitative"}}
        }
      ]
    },
    {
      "width": 318, "height": 315,
      "layer": [
        {
          "data": {"name": "tr"},
          "mark": {"type": "line", "clip": true},
          "encoding": {
            "x": {"field": "x", "type": "quantitative", "scale": {"domain": [-1, 21], "nice": false, "zero": false},
              "axis": {"title": null, "values": [0, 2.5, 5, 7.5, 10, 12.5, 15, 17.5, 20],
                "labelExpr": "datum.value === 0 || datum.value === 20 ? datum.label : ''",
                "gridColor": {"condition": {"test": "datum.value % 5 === 0", "value": "white"}, "value": "#F2F2F2"},
                "gridWidth": {"condition": {"test": "datum.value % 5 === 0", "value": 2}, "value": 1},
                "tickOpacity": {"condition": {"test": "datum.value % 5 === 0", "value": 1}, "value": 0}}},
            "y": {"field": "y", "type": "quantitative", "scale": {"domain": [0.8927, 1.0055], "nice": false, "zero": false},
              "axis": {"title": null, "values": [0.9, 0.9125, 0.925, 0.9375, 0.95, 0.9625, 0.975, 0.9875, 1.0], "format": ".3f",
                "labelExpr": "round(datum.value * 1000) % 25 === 0 ? datum.label : ''",
                "gridColor": {"condition": {"test": "round(datum.value * 1000) % 25 === 0", "value": "white"}, "value": "#F2F2F2"},
                "gridWidth": {"condition": {"test": "round(datum.value * 1000) % 25 === 0", "value": 2}, "value": 1},
                "tickOpacity": {"condition": {"test": "round(datum.value * 1000) % 25 === 0", "value": 1}, "value": 0}}},
            "color": {"field": "m", "type": "nominal",
              "scale": {"domain": ["RLC", "FCD2", "FCPL", "FCCH1", "FCCH2", "NeyProb", "CLs", "1", "1/√b", "1/√μ", "1/√μb", "1/√(μ+b)"],
                "range": ["#F8766D", "#DE8C00", "#B79F00", "#7CAE00", "#00BA38", "#00C08B", "#00BFC4", "#00B4F0", "#619CFF", "#C77CFF", "#F564E3", "#FF64B0"]},
              "legend": {"title": null, "zindex": 2, "legendY": 352, "symbolType": "stroke", "symbolSize": 11449, "symbolStrokeWidth": 4.5, "symbolOffset": 9.5, "labelOffset": 15.5}}
          }
        },
        {
          "data": {"name": "ref"},
          "mark": {"type": "rule", "color": "black", "strokeWidth": 9},
          "encoding": {"y": {"field": "y", "type": "quantitative"}}
        }
      ]
    },
    {
      "width": 318, "height": 34,
      "view": {"fill": "white", "fillOpacity": 0, "stroke": null},
      "data": {"values": []},
      "mark": "text"
    },
    {
      "width": 318, "height": 34,
      "view": {"fill": "white", "fillOpacity": 0, "stroke": null},
      "data": {"values": []},
      "mark": "text"
    },
    {
      "width": 318, "height": 26,
      "view": {"fill": "#CCCCCC", "stroke": null},
      "data": {"values": [{"t": "Expected Length"}]},
      "mark": {"type": "text", "fontSize": 18.5, "color": "#1A1A1A", "baseline": "middle"},
      "encoding": {"text": {"field": "t"}}
    },
    {
      "width": 318, "height": 26,
      "view": {"fill": "white", "fillOpacity": 0, "stroke": null},
      "data": {"values": []},
      "mark": {"type": "point", "filled": true, "color": "#F2F2F2", "strokeWidth": 0},
      "encoding": {
        "shape": {"field": "k", "type": "nominal",
          "scale": {"domain": ["k01", "k02", "k03", "k04", "k05", "k06", "k07", "k08", "k09", "k10", "k11", "k12"],
            "range": ["M-1,-0.2214H1V0.2214H-1Z", "M-1,-0.2214H1V0.2214H-1Z", "M-1,-0.2214H1V0.2214H-1Z", "M-1,-0.2214H1V0.2214H-1Z", "M-1,-0.2214H1V0.2214H-1Z", "M-1,-0.2214H1V0.2214H-1Z", "M-1,-0.2214H1V0.2214H-1Z", "M-1,-0.2214H1V0.2214H-1Z", "M-1,-0.2214H1V0.2214H-1Z", "M-1,-0.2214H1V0.2214H-1Z", "M-1,-0.2214H1V0.2214H-1Z", "M-1,-0.2214H1V0.2214H-1Z"]},
          "legend": {"title": "Method", "zindex": 1, "fillColor": "white", "labelExpr": "''",
            "symbolSize": 17161, "symbolOffset": 0, "symbolFillColor": "#F2F2F2", "symbolStrokeColor": "#F2F2F2", "symbolStrokeWidth": 0, "symbolOpacity": 1, "labelOffset": 76}}
      }
    },
    {
      "width": 318, "height": 315,
      "data": {"name": "bl"},
      "mark": {"type": "line", "clip": true, "strokeWidth": 5},
      "encoding": {
        "x": {"field": "x", "type": "quantitative", "scale": {"domain": [-1, 21], "nice": false, "zero": false},
          "axis": {"title": "μ", "titleX": 349, "titleY": 45, "titleBaseline": "alphabetic", "titleAlign": "center", "titleFontSize": 22, "titleFontWeight": "normal", "titleColor": "black", "titleFont": "DejaVu Serif",
            "values": [0, 2.5, 5, 7.5, 10, 12.5, 15, 17.5, 20],
            "labelExpr": "datum.value % 5 === 0 ? datum.label : ''",
            "gridColor": {"condition": {"test": "datum.value % 5 === 0", "value": "white"}, "value": "#F2F2F2"},
            "gridWidth": {"condition": {"test": "datum.value % 5 === 0", "value": 2}, "value": 1},
            "tickOpacity": {"condition": {"test": "datum.value % 5 === 0", "value": 1}, "value": 0}}},
        "y": {"field": "y", "type": "quantitative", "scale": {"domain": [1.83, 30.03], "nice": false, "zero": false},
          "axis": {"title": null, "values": [5, 10, 15, 20, 25],
            "labelExpr": "datum.value % 10 === 0 ? datum.label : ''",
            "gridColor": {"condition": {"test": "datum.value % 10 === 0", "value": "white"}, "value": "#F2F2F2"},
            "gridWidth": {"condition": {"test": "datum.value % 10 === 0", "value": 2}, "value": 1},
            "tickOpacity": {"condition": {"test": "datum.value % 10 === 0", "value": 1}, "value": 0}}},
        "color": {"field": "m", "type": "nominal",
          "scale": {"domain": ["RLC", "FCD2", "FCPL", "FCCH1", "FCCH2", "NeyProb", "CLs", "1", "1/√b", "1/√μ", "1/√μb", "1/√(μ+b)"],
            "range": ["#F8766D", "#DE8C00", "#B79F00", "#7CAE00", "#00BA38", "#00C08B", "#00BFC4", "#00B4F0", "#619CFF", "#C77CFF", "#F564E3", "#FF64B0"]},
          "legend": {"title": null, "zindex": 2, "legendY": 352, "symbolType": "stroke", "symbolSize": 11449, "symbolStrokeWidth": 4.5, "symbolOffset": 9.5, "labelOffset": 15.5}}
      }
    }
  ],
  "columns": 2,
  "spacing": {"row": 0, "column": 67},
  "bounds": "flush",
  "config": {
    "font": "Liberation Sans",
    "view": {"fill": "#E5E5E5", "stroke": null},
    "line": {"strokeWidth": 4, "strokeJoin": "round"},
    "axis": {
      "domain": false,
      "labelColor": "#7F7F7F",
      "labelFontSize": 18,
      "labelPadding": 6,
      "labelFlush": false,
      "labelOverlap": false,
      "tickColor": "#7F7F7F",
      "tickSize": 7,
      "tickWidth": 1.5
    },
    "legend": {
      "orient": "none",
      "legendX": 414,
      "legendY": 328,
      "padding": 10,
      "titleFontSize": 18,
      "titleFontWeight": "bold",
      "titleColor": "black",
      "titlePadding": 6,
      "labelFontSize": 18,
      "labelColor": "black",
      "labelLimit": 300,
      "clipHeight": 29,
      "rowPadding": 3.5
    }
  }
}
